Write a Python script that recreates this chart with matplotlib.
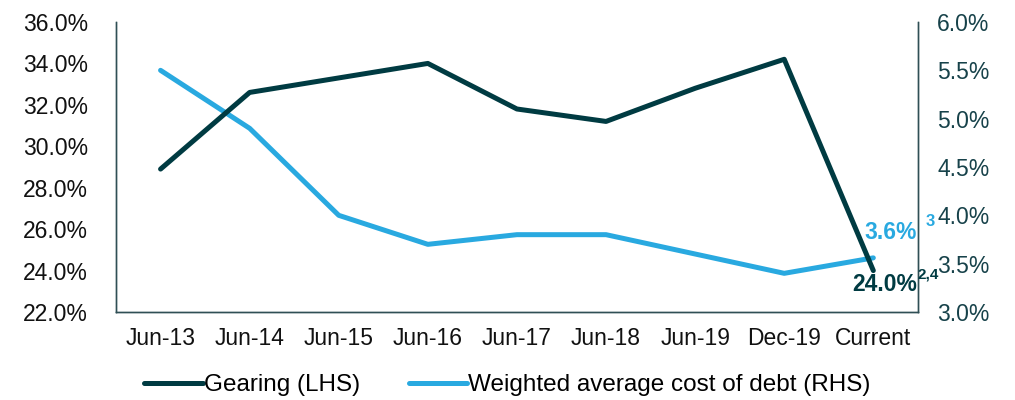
import numpy as np
import matplotlib.pyplot as plt
from matplotlib.ticker import FuncFormatter

plt.rcParams["font.family"] = ["Liberation Sans", "DejaVu Sans"]

CATEGORIES = ["Jun-13", "Jun-14", "Jun-15", "Jun-16", "Jun-17", "Jun-18", "Jun-19", "Dec-19", "Current"]
GEARING    = [28.9, 32.6, 33.3, 34.0, 31.8, 31.2, 32.8, 34.2, 24.0]   # LHS, %
COST_DEBT  = [5.5, 4.9, 4.0, 3.7, 3.8, 3.8, 3.6, 3.4, 3.56]           # RHS, %

DARK  = "#003b42"
LIGHT = "#29a9e0"
TEXT  = "#111111"
FS = 16.5

fig = plt.figure(figsize=(10.15, 4.0), dpi=100)
ax = fig.add_axes([0.1143, 0.22, 0.790, 0.725])
ax2 = ax.twinx()

x = np.arange(len(CATEGORIES))
l1, = ax.plot(x, GEARING, color=DARK, lw=3.6, solid_capstyle="round",
              solid_joinstyle="round", label="Gearing (LHS)")
l2, = ax2.plot(x, COST_DEBT, color=LIGHT, lw=3.6, solid_capstyle="round",
               solid_joinstyle="round", label="Weighted average cost of debt (RHS)")
ax.set_zorder(ax2.get_zorder() + 1)
ax.patch.set_visible(False)

ax.set_xlim(-0.5, len(CATEGORIES) - 0.5)
ax.set_ylim(22, 36)
ax.set_yticks(np.arange(22, 36.1, 2))
ax.yaxis.set_major_formatter(FuncFormatter(lambda v, p: f"{v:.1f}%"))
ax2.set_ylim(3.0, 6.0)
ax2.set_yticks(np.arange(3.0, 6.01, 0.5))
ax2.yaxis.set_major_formatter(FuncFormatter(lambda v, p: f"{v:.1f}%"))

ax.set_xticks(x)
ax.set_xticklabels(CATEGORIES)
for a in (ax, ax2):
    a.tick_params(length=0, labelsize=FS, labelcolor=TEXT)
    a.spines["top"].set_visible(False)
    for s in ("left", "right", "bottom"):
        a.spines[s].set_color("#2f4f55")
        a.spines[s].set_linewidth(1.0)
ax.tick_params(axis="y", pad=20)
ax.tick_params(axis="x", pad=11)
ax2.tick_params(axis="y", pad=14, labelcolor="#17424a")

# end-point annotations
ax.annotate(f"{GEARING[-1]:.1f}%", (x[-1], GEARING[-1]), xytext=(31.5, -10),
            textcoords="offset points", ha="right", va="center",
            fontsize=FS, fontweight="bold", color=DARK)
ax.annotate("2,4", (x[-1], GEARING[-1]), xytext=(39.5, -3),
            textcoords="offset points", ha="center", va="center",
            fontsize=11, fontweight="bold", color=DARK)
ax2.annotate("3.6%", (x[-1], COST_DEBT[-1]), xytext=(31.5, 18.5),
             textcoords="offset points", ha="right", va="center",
             fontsize=FS, fontweight="bold", color=LIGHT)
ax2.annotate("3", (x[-1], COST_DEBT[-1]), xytext=(41, 26.5),
             textcoords="offset points", ha="center", va="center",
             fontsize=12, fontweight="bold", color=LIGHT)

fig.legend(handles=[l1, l2], loc="center", bbox_to_anchor=(0.5, 0.037), ncol=2,
           frameon=False, fontsize=17.5, handlelength=2.4, handletextpad=0.05,
           columnspacing=2.0)

fig.savefig("out.png", dpi=100)
